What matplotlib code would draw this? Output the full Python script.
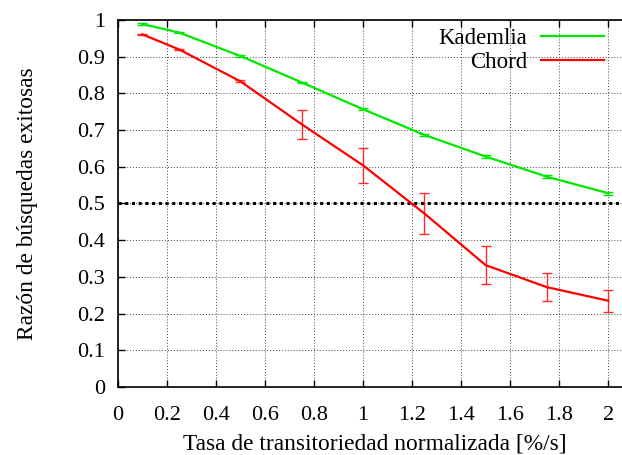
import numpy as np
import matplotlib
matplotlib.use("Agg")
import matplotlib.pyplot as plt

plt.rcParams['font.family'] = ['Liberation Serif', 'DejaVu Serif']
plt.rcParams['font.size'] = 16

# datos
tasa = [0.1, 0.25, 0.5, 0.75, 1.0, 1.25, 1.5, 1.75, 2.0]
kademlia = [0.989, 0.966, 0.902, 0.830, 0.757, 0.687, 0.628, 0.573, 0.528]
kademlia_err = [0.002, 0.002, 0.002, 0.002, 0.003, 0.003, 0.003, 0.004, 0.004]
chord = [0.961, 0.920, 0.833, 0.716, 0.604, 0.473, 0.332, 0.272, 0.235]
chord_err = [0.002, 0.002, 0.003, 0.039, 0.048, 0.055, 0.051, 0.038, 0.030]
umbral = 0.5

xticks = [0, 0.2, 0.4, 0.6, 0.8, 1, 1.2, 1.4, 1.6, 1.8, 2]
xtick_labels = ["0", "0.2", "0.4", "0.6", "0.8", "1", "1.2", "1.4", "1.6", "1.8", "2"]
yticks = [0, 0.1, 0.2, 0.3, 0.4, 0.5, 0.6, 0.7, 0.8, 0.9, 1]
ytick_labels = ["0", "0.1", "0.2", "0.3", "0.4", "0.5", "0.6", "0.7", "0.8", "0.9", "1"]

fig = plt.figure(figsize=(6.22, 4.55), dpi=100)
ax = fig.add_axes([0.1892, 0.1495, 1.0 - 0.1892, 0.956 - 0.1495])

ax.grid(True, linestyle=(0, (1, 2)), color='#444444', linewidth=0.7)
ax.set_axisbelow(True)

ax.axhline(umbral, color='black', linestyle=(0, (1, 1.2)), linewidth=2.2, zorder=2)

ax.errorbar(tasa, kademlia, yerr=kademlia_err, color='#00e800', linewidth=1.6,
            elinewidth=1, capsize=3.5, label='Kademlia', zorder=3)
ax.errorbar(tasa, chord, yerr=chord_err, color='#ff0000', ecolor='#ff2a2a',
            linewidth=1.6, elinewidth=1, capsize=3.5, label='Chord', zorder=3)

ax.set_xlim(0, 2.056)
ax.set_ylim(0, 1)
ax.set_xticks(xticks)
ax.set_xticklabels(xtick_labels)
ax.set_yticks(yticks)
ax.set_yticklabels(ytick_labels)
ax.tick_params(direction='in', top=True, right=False, length=5, width=1)
ax.tick_params(axis='x', pad=14)
ax.tick_params(axis='y', pad=9)
ax.spines['right'].set_visible(False)
for s in ['left', 'bottom', 'top']:
    ax.spines[s].set_linewidth(1.2)

ax.set_xlabel('Tasa de transitoriedad normalizada [%/s]', fontsize=16.8)
ax.set_ylabel('Razón de búsquedas exitosas', fontsize=16.8)
ax.xaxis.set_label_coords(0.510, -0.128)
ax.yaxis.set_label_coords(-0.158, 0.5)

handles, labels = ax.get_legend_handles_labels()
handles = [h[0] for h in handles]
ax.legend(handles, labels, loc='upper right', bbox_to_anchor=(0.9643, 0.978),
          frameon=False, markerfirst=False, handlelength=2.75, fontsize=16.5,
          borderaxespad=0, borderpad=0, labelspacing=0.12, handletextpad=0.6)

fig.savefig('out.png', dpi=100)
